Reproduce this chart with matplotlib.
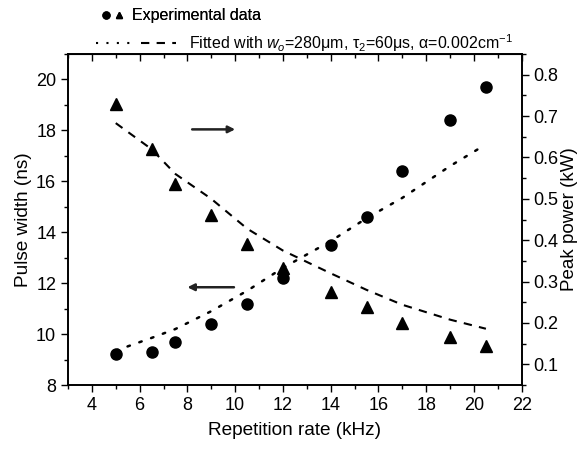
import numpy as np
import matplotlib
matplotlib.use("Agg")
from matplotlib import pyplot as plt
from matplotlib.lines import Line2D
from matplotlib.legend_handler import HandlerTuple
from matplotlib.ticker import MultipleLocator

plt.rcParams["font.family"] = ["Liberation Sans", "DejaVu Sans"]
plt.rcParams["mathtext.fontset"] = "custom"
plt.rcParams["mathtext.rm"] = "Liberation Sans"
plt.rcParams["mathtext.it"] = "Liberation Sans:italic"

# Repetition rate (kHz)
rep_rate = [5, 6.5, 7.5, 9, 10.5, 12, 14, 15.5, 17, 19, 20.5]

# Measured pulse width (ns) and peak power (kW)
pulse_width = [9.2, 9.3, 9.7, 10.4, 11.2, 12.2, 13.5, 14.6, 16.4, 18.4, 19.7]
peak_power = [0.728, 0.62, 0.536, 0.462, 0.392, 0.332, 0.275, 0.239, 0.20, 0.167, 0.145]

# Fitted curves
pulse_width_fit = [9.35, 9.85, 10.2, 10.9, 11.7, 12.6, 13.65, 14.55, 15.35, 16.6, 17.45]
peak_power_fit = [0.683, 0.62, 0.56, 0.50, 0.428, 0.375, 0.32, 0.28, 0.244, 0.208, 0.186]

fig = plt.figure(figsize=(5.81, 4.49), dpi=100)
ax = fig.add_axes([0.117, 0.1425, 0.781, 0.7372])
ax2 = ax.twinx()

# Left axis: pulse width
ax.plot(rep_rate, pulse_width, "o", color="black", markersize=8)
ax.plot(rep_rate, pulse_width_fit, color="black", lw=1.8,
        linestyle=(0, (1, 4)), dash_capstyle="round")

# Right axis: peak power
ax2.plot(rep_rate, peak_power, "^", color="black", markersize=9)
ax2.plot(rep_rate, peak_power_fit, color="black", lw=1.5,
         linestyle=(0, (4, 3.5)))

# Direction arrows
arrow_kw = dict(arrowstyle="-|>", color="#222222", lw=1.8,
                mutation_scale=10, shrinkA=0, shrinkB=0)
ax.annotate("", xy=(10.0, 18.04), xytext=(8.2, 18.04), arrowprops=arrow_kw)
ax.annotate("", xy=(8.0, 11.84), xytext=(9.95, 11.84), arrowprops=arrow_kw)

# Axes limits and ticks
ax.set_xlim(3, 22)
ax.set_ylim(8, 21)
ax2.set_ylim(0.05, 0.85)
ax.xaxis.set_major_locator(MultipleLocator(2))
ax.xaxis.set_minor_locator(MultipleLocator(1))
ax.yaxis.set_major_locator(MultipleLocator(2))
ax.yaxis.set_minor_locator(MultipleLocator(1))
ax2.yaxis.set_major_locator(MultipleLocator(0.1))
ax2.yaxis.set_minor_locator(MultipleLocator(0.05))

ax.tick_params(axis="x", which="both", direction="out", top=False, labelsize=13)
ax.tick_params(axis="y", which="both", direction="out", labelsize=13)
ax.tick_params(which="major", length=5, width=1)
ax.tick_params(which="minor", length=3, width=1)
ax2.tick_params(axis="y", which="major", direction="out", length=5, width=1, labelsize=13)
ax2.tick_params(axis="y", which="minor", direction="out", length=3, width=1)

# Top ticks pointing inward
secx = ax.secondary_xaxis("top")
secx.xaxis.set_major_locator(MultipleLocator(2))
secx.xaxis.set_minor_locator(MultipleLocator(1))
secx.tick_params(which="both", direction="in", labeltop=False)
secx.tick_params(which="major", length=5, width=1)
secx.tick_params(which="minor", length=3, width=1)

for a in (ax, ax2):
    for sp in a.spines.values():
        sp.set_linewidth(1.2)

ax.set_xlabel("Repetition rate (kHz)", fontsize=13.7, labelpad=6)
ax.set_ylabel("Pulse width (ns)", fontsize=13.7, labelpad=3)
ax2.set_ylabel("Peak power (kW)", fontsize=13.5, labelpad=2)

# Legend above the plot
exp_handle = (Line2D([], [], marker="o", ls="none", color="black", markersize=5),
              Line2D([], [], marker="^", ls="none", color="black", markersize=5))
fit_handle = (Line2D([], [], color="black", lw=1.5, linestyle=(0, (1, 4))),
              Line2D([], [], color="black", lw=1.5, linestyle=(0, (4, 3.5))))

leg1 = fig.legend([exp_handle], ["Experimental data"],
                  handler_map={tuple: HandlerTuple(ndivide=None, pad=0.2)},
                  loc="center left", bbox_to_anchor=(0.175, 0.965),
                  frameon=False, fontsize=11.5, handlelength=1.4,
                  handletextpad=0.5, borderaxespad=0, borderpad=0)
fig.add_artist(leg1)
fig.legend([fit_handle],
           [r"Fitted with $w_o$=280μm, τ$_2$=60μs, α=0.002cm$^{-1}$"],
           handler_map={tuple: HandlerTuple(ndivide=None, pad=0.6)},
           loc="center left", bbox_to_anchor=(0.165, 0.905),
           frameon=False, fontsize=11.5, handlelength=5.0,
           handletextpad=0.8, borderaxespad=0, borderpad=0)

fig.savefig("out.png", dpi=100)
